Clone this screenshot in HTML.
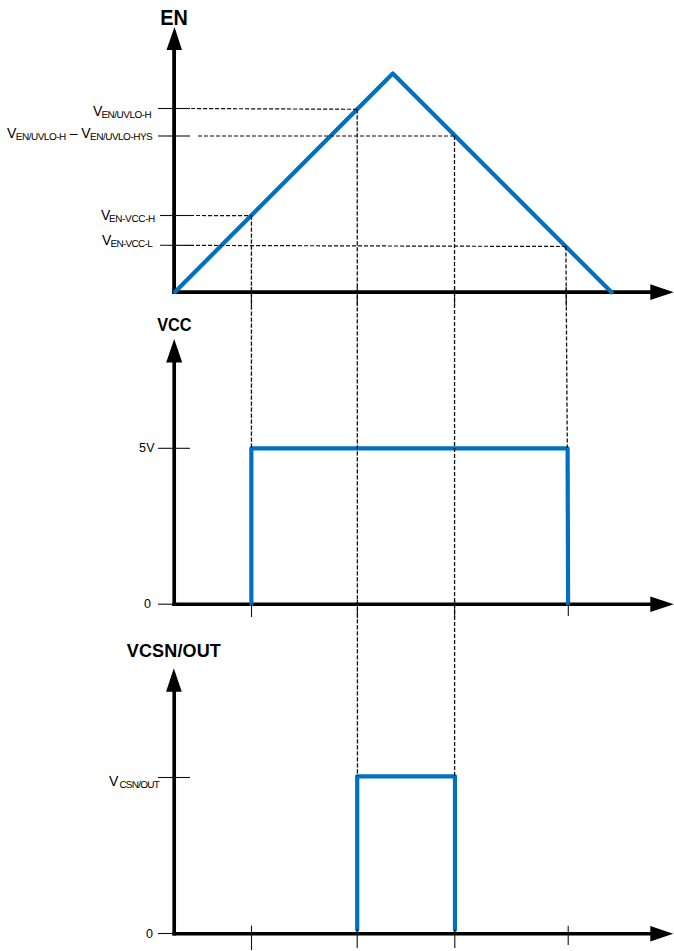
<!DOCTYPE html>
<html><head><meta charset="utf-8">
<style>
html,body{margin:0;padding:0;background:#fff;}
body{width:674px;height:951px;overflow:hidden;}
svg{display:block;}
text{font-family:"Liberation Sans",sans-serif;}
.ax{stroke:#000;stroke-width:3.8;fill:none;}
.ar{fill:#000;stroke:none;}
.bl{stroke:#0070C0;stroke-width:4.2;fill:none;stroke-linejoin:round;stroke-linecap:round;}
.tk{stroke:#111;stroke-width:1.1;fill:none;}
.dh{stroke:#111;stroke-width:1.2;fill:none;stroke-dasharray:4.1 1.9;}
.dv{stroke:#111;stroke-width:1.3;fill:none;stroke-dasharray:4.1 1.9;}
.lbl{font-size:14px;fill:#000;}
.sub{font-size:10px;fill:#000;letter-spacing:-0.5px;text-rendering:geometricPrecision;}
.ttl{font-size:21px;font-weight:bold;fill:#000;}
.ttl2{font-size:17px;font-weight:bold;fill:#000;}
.num{font-size:12.5px;fill:#000;}
</style></head>
<body>
<svg width="674" height="951" viewBox="0 0 674 951">
<!-- EN axes -->
<line class="ax" x1="174.1" y1="49" x2="174.1" y2="294"/>
<polygon class="ar" points="174.5,27 166.5,50 182,50"/>
<line class="ax" x1="172.2" y1="292.1" x2="651" y2="292.1"/>
<polygon class="ar" points="673.7,292.2 650.3,284.3 650.3,299.9"/>
<!-- VCC axes -->
<line class="ax" x1="174.2" y1="361" x2="174.2" y2="606" style="stroke-width:3.65"/>
<polygon class="ar" points="174.2,339 166.2,362.5 182.2,362.5"/>
<line class="ax" x1="172.4" y1="604.25" x2="651" y2="604.25" style="stroke-width:3.55"/>
<polygon class="ar" points="673.8,604.3 650.3,596.5 650.3,612.1"/>
<!-- VCSN axes -->
<line class="ax" x1="174.2" y1="690" x2="174.2" y2="935.5" style="stroke-width:3.65"/>
<polygon class="ar" points="173.8,668.3 166.1,691.8 181.8,691.8"/>
<line class="ax" x1="172.4" y1="933.8" x2="651" y2="933.8" style="stroke-width:3.4"/>
<polygon class="ar" points="673.2,933.8 650.3,926.1 650.3,941.5"/>

<!-- blue signals -->
<polyline class="bl" points="175,292 392.8,73.5 611.5,292.3"/>
<polyline class="bl" points="251.35,604 251.35,448.4 567.6,448.4 568.1,604"/>
<polyline class="bl" points="357.2,929.8 357.2,776.3 455,776.3 455,929.8"/>

<!-- dashed verticals -->
<line class="dv" x1="251.45" y1="215.6" x2="251.45" y2="448"/>
<line class="dv" x1="357.2" y1="109.3" x2="357.45" y2="776"/>
<line class="dv" x1="454.5" y1="136" x2="454.6" y2="776"/>
<line class="dv" x1="565.9" y1="246.5" x2="567.3" y2="448"/>
<!-- dashed horizontals -->
<line class="dh" x1="190" y1="108.5" x2="357.2" y2="109.3" style="stroke-dashoffset:4.9"/>
<line class="dh" x1="198" y1="136" x2="454.5" y2="136"/>
<line class="dh" x1="190" y1="215.5" x2="251.45" y2="215.6"/>
<line class="dh" x1="190" y1="245.4" x2="565.9" y2="246.5"/>
<!-- y ticks -->
<line class="tk" x1="158" y1="108.5" x2="190" y2="108.5"/>
<line class="tk" x1="158" y1="136" x2="190" y2="136"/>
<line class="tk" x1="160" y1="215.5" x2="190" y2="215.5"/>
<line class="tk" x1="160" y1="245.3" x2="190" y2="245.4"/>
<line class="tk" x1="158" y1="448.3" x2="190" y2="448.3"/>
<line class="tk" x1="158" y1="604.2" x2="174" y2="604.2"/>
<line class="tk" x1="158" y1="777.5" x2="190" y2="777.5"/>
<line class="tk" x1="158" y1="933.5" x2="174" y2="933.5"/>
<!-- x ticks at axis crossings -->
<line class="tk" x1="251.45" y1="287" x2="251.45" y2="306"/>
<line class="tk" x1="357.3" y1="287" x2="357.3" y2="306"/>
<line class="tk" x1="454.55" y1="287" x2="454.55" y2="306"/>
<line class="tk" x1="566.2" y1="287" x2="566.3" y2="306"/>
<line class="tk" x1="251.5" y1="604" x2="251.5" y2="617"/>
<line class="tk" x1="568.3" y1="604" x2="568.3" y2="616"/>
<line class="tk" x1="357.45" y1="600" x2="357.45" y2="618"/>
<line class="tk" x1="454.6" y1="600" x2="454.6" y2="618"/>
<line class="tk" x1="251.5" y1="925.6" x2="251.5" y2="950"/>
<line class="tk" x1="568.2" y1="925.8" x2="568.2" y2="945"/>
<line class="tk" x1="357.2" y1="929" x2="357.2" y2="948"/>
<line class="tk" x1="454.8" y1="929" x2="454.8" y2="948"/>

<!-- titles -->
<text class="ttl" transform="translate(160.2,24.9) scale(0.9,1)" x="0" y="0" style="font-size:22px">EN</text>
<text class="ttl2" transform="translate(157.2,331) scale(0.906,1)" x="0" y="0" style="font-size:18px">VCC</text>
<text class="ttl2" x="126.8" y="657.2" style="font-size:18px;letter-spacing:0.15px">VCSN/OUT</text>

<!-- labels -->
<text class="lbl" x="93" y="116">V</text><text class="sub" x="101.4" y="118" >EN/UVLO-H</text>
<text class="lbl" x="7.1" y="138.2">V</text><text class="sub" x="15.8" y="139.8" >EN/UVLO-H</text>
<text class="lbl" x="69.8" y="138.2">–</text>
<text class="lbl" x="81.3" y="138.2">V</text><text class="sub" x="90" y="139.8" >EN/UVLO-HYS</text>
<text class="lbl" x="100.9" y="219.8">V</text><text class="sub" x="108.9" y="222" style="letter-spacing:-0.35px">EN-VCC-H</text>
<text class="lbl" x="101.9" y="245">V</text><text class="sub" x="110.5" y="247" style="letter-spacing:-0.7px">EN-VCC-L</text>
<text class="num" x="139" y="452" style="letter-spacing:0.2px">5V</text>
<text class="num" x="144" y="608">0</text>
<text class="lbl" x="109" y="786">V</text><text class="sub" x="119.4" y="788" style="letter-spacing:-0.75px">CSN/OUT</text>
<text class="num" x="146" y="938">0</text>
</svg>
</body></html>
